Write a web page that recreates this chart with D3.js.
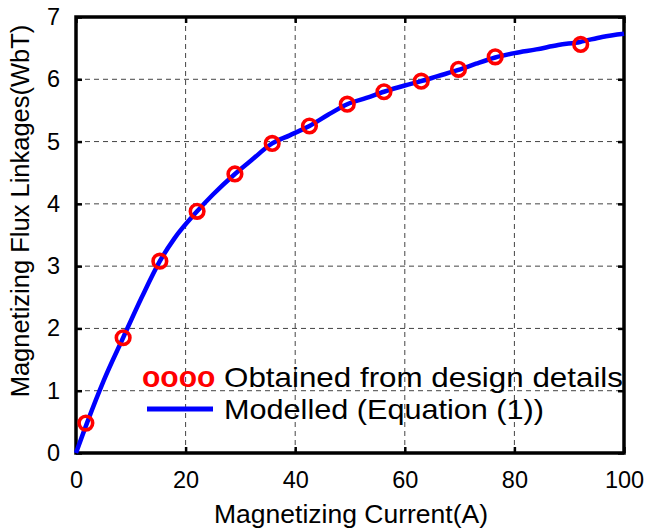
<!DOCTYPE html>
<html><head><meta charset="utf-8">
<script src="https://cdn.jsdelivr.net/npm/d3@7"></script>
<style>body{margin:0;background:#fff}svg{display:block}text{font-family:"Liberation Sans",Arial,sans-serif}</style>
</head><body><svg id="c" width="646" height="531"></svg>
<script>
const xTicks = [0, 20, 40, 60, 80, 100];
const yTicks = [0, 1, 2, 3, 4, 5, 6, 7];
const designCurrent = [1.8, 8.6, 15.3, 22.1, 29.0, 35.8, 42.6, 49.5, 56.2, 63.0, 69.8, 76.5, 92.1];
const designFlux = [0.48, 1.85, 3.08, 3.88, 4.48, 4.97, 5.25, 5.60, 5.80, 5.97, 6.16, 6.36, 6.56];
const modelCurrent = [0, 2, 5, 8.6, 12, 15.3, 18, 22.1, 25, 29, 32, 35.8, 39, 42.6, 46, 49.5, 53, 56.2, 60, 63, 66, 69.8, 73, 76.5, 80, 84, 88, 92, 96, 100];
const modelFlux = [0, 0.48, 1.15, 1.85, 2.5, 3.08, 3.45, 3.88, 4.15, 4.48, 4.70, 4.97, 5.10, 5.25, 5.43, 5.60, 5.70, 5.80, 5.90, 5.97, 6.05, 6.15, 6.25, 6.35, 6.42, 6.48, 6.55, 6.60, 6.68, 6.73];
const legendLabels = ["Obtained from design details", "Modelled (Equation (1))"];

const svg = d3.select("#c");
const L = 76, R = 624, T = 17, B = 453;
const x = d3.scaleLinear().domain([0, 100]).range([L, R]);
const y = d3.scaleLinear().domain([0, 7]).range([B, T]);

// grid
const g = svg.append("g");
g.selectAll(".gx").data(xTicks.slice(1, -1)).join("line")
  .attr("x1", d => x(d)).attr("x2", d => x(d)).attr("y1", T).attr("y2", B)
  .attr("stroke", "#444").attr("stroke-width", 1).attr("stroke-dasharray", "5,4");
g.selectAll(".gy").data(yTicks.slice(1, -1)).join("line")
  .attr("y1", d => y(d)).attr("y2", d => y(d)).attr("x1", L).attr("x2", R)
  .attr("stroke", "#444").attr("stroke-width", 1).attr("stroke-dasharray", "5,4");

// axes with inward ticks
const fs = "23.5px";
const fmt = d3.format("d");
const ax = svg.append("g").attr("transform", `translate(0,${B})`)
  .call(d3.axisBottom(x).tickValues(xTicks).tickFormat(fmt).tickSizeInner(-6).tickSizeOuter(0).tickPadding(18));
const axT = svg.append("g").attr("transform", `translate(0,${T})`)
  .call(d3.axisTop(x).tickValues(xTicks).tickSizeInner(-6).tickSizeOuter(0).tickFormat(""));
const ay = svg.append("g").attr("transform", `translate(${L},0)`)
  .call(d3.axisLeft(y).tickValues(yTicks).tickFormat(fmt).tickSizeInner(-6).tickSizeOuter(0).tickPadding(16));
const ayR = svg.append("g").attr("transform", `translate(${R},0)`)
  .call(d3.axisRight(y).tickValues(yTicks).tickSizeInner(-6).tickSizeOuter(0).tickFormat(""));
[ax, axT, ay, ayR].forEach(a => {
  a.select(".domain").remove();
  a.selectAll(".tick line").attr("stroke", "#000").attr("stroke-width", 2.5);
  a.selectAll("text").attr("font-size", fs).attr("fill", "#000")
    .attr("font-family", '"Liberation Sans", Arial, sans-serif');
});

// frame
svg.append("rect").attr("x", L).attr("y", T).attr("width", R - L).attr("height", B - T)
  .attr("fill", "none").attr("stroke", "#000").attr("stroke-width", 3.5);

// model line
const line = d3.line().x((d, i) => x(modelCurrent[i])).y((d, i) => y(modelFlux[i])).curve(d3.curveMonotoneX);
svg.append("path").datum(modelCurrent).attr("d", line)
  .attr("fill", "none").attr("stroke", "#0000ff").attr("stroke-width", 4.5).attr("stroke-linejoin", "round");

// markers
svg.selectAll(".m").data(designCurrent).join("circle")
  .attr("cx", d => x(d)).attr("cy", (d, i) => y(designFlux[i])).attr("r", 6.8)
  .attr("fill", "none").attr("stroke", "#ff0000").attr("stroke-width", 3.6);

// legend
svg.append("text").attr("x", 142).attr("y", 387).attr("font-size", "30px").attr("font-weight", "bold")
  .attr("fill", "#ff0000").text("oooo");
svg.append("text").attr("x", 224).attr("y", 386.5).attr("font-size", "28px").attr("fill", "#000")
  .attr("textLength", 399).attr("lengthAdjust", "spacingAndGlyphs").text(legendLabels[0]);
svg.append("line").attr("x1", 147).attr("x2", 213).attr("y1", 409).attr("y2", 409)
  .attr("stroke", "#0000ff").attr("stroke-width", 5);
svg.append("text").attr("x", 224).attr("y", 418.5).attr("font-size", "28px").attr("fill", "#000")
  .attr("textLength", 320).attr("lengthAdjust", "spacingAndGlyphs").text(legendLabels[1]);

// axis labels
svg.append("text").attr("x", 351).attr("y", 523).attr("text-anchor", "middle")
  .attr("font-size", "26.5px").attr("fill", "#000").text("Magnetizing Current(A)");
svg.append("text").attr("transform", "translate(29,211) rotate(-90)").attr("text-anchor", "middle")
  .attr("font-size", "25.5px").attr("fill", "#000").text("Magnetizing Flux Linkages(WbT)");
</script></body></html>
